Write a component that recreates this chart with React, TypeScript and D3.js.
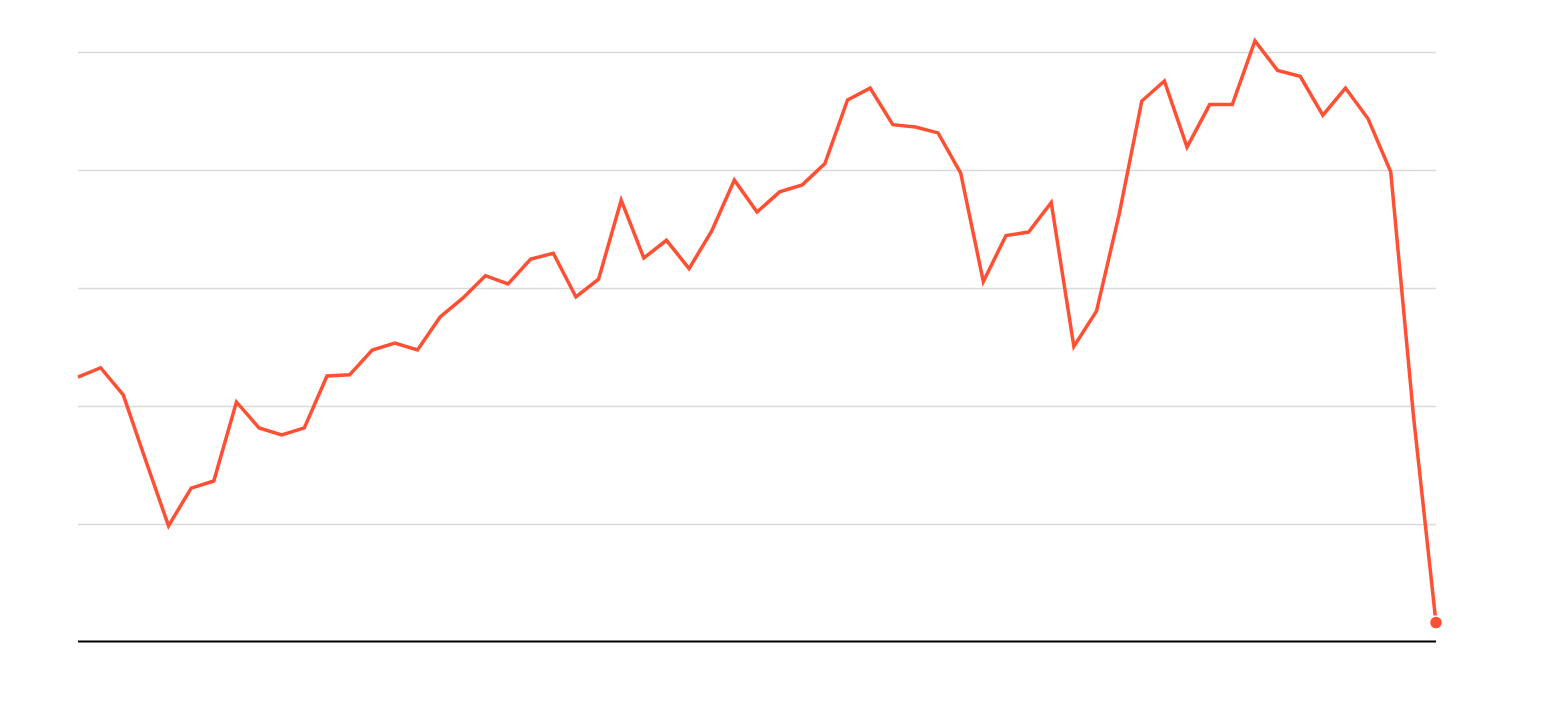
import React from "react";
import * as d3 from "d3";

const values: number[] = [
  22.4, 23.2, 20.9, 15.3, 9.8, 13.0, 13.6, 20.3, 18.1, 17.5,
  18.1, 22.5, 22.6, 24.7, 25.3, 24.7, 27.5, 29.1, 31.0, 30.3,
  32.4, 32.9, 29.2, 30.7, 37.4, 32.5, 34.0, 31.6, 34.8, 39.1,
  36.4, 38.1, 38.7, 40.5, 45.9, 46.9, 43.8, 43.6, 43.1, 39.7,
  30.5, 34.4, 34.7, 37.2, 25.0, 28.0, 36.2, 45.8, 47.5, 41.9,
  45.5, 45.5, 50.9, 48.4, 47.9, 44.6, 46.9, 44.3, 39.8, 19.2,
  1.6,
];
const gridTicks: number[] = [10, 20, 30, 40, 50];

const W = 1560;
const H = 702;
const left = 78;
const right = 1436;
const top = 51.5;
const bottom = 641.5;

export default function App() {
  const x = d3.scaleLinear().domain([0, values.length - 1]).range([left, right]);
  const y = d3.scaleLinear().domain([0, 50]).range([bottom, top]);
  const line = d3
    .line<number>()
    .x((_, i) => x(i))
    .y((d) => y(d))
    .curve(d3.curveLinear);
  const last = values.length - 1;
  return (
    <svg
      width={W}
      height={H}
      style={{ position: "absolute", left: 0, top: 0, display: "block", background: "#fff" }}
    >
      {gridTicks.map((t) => (
        <line
          key={t}
          x1={left}
          x2={right}
          y1={Math.round(y(t)) + 0.5}
          y2={Math.round(y(t)) + 0.5}
          stroke="#dadada"
          strokeWidth={1.6}
        />
      ))}
      <line x1={left} x2={right} y1={bottom} y2={bottom} stroke="#000" strokeWidth={2} />
      <path
        d={line(values) || ""}
        fill="none"
        stroke="#ff5033"
        strokeWidth={3.5}
        strokeLinejoin="miter"
      />
      <circle cx={x(last)} cy={y(values[last])} r={6.5} fill="#ff5033" stroke="#fff" strokeWidth={1.5} />
    </svg>
  );
}
